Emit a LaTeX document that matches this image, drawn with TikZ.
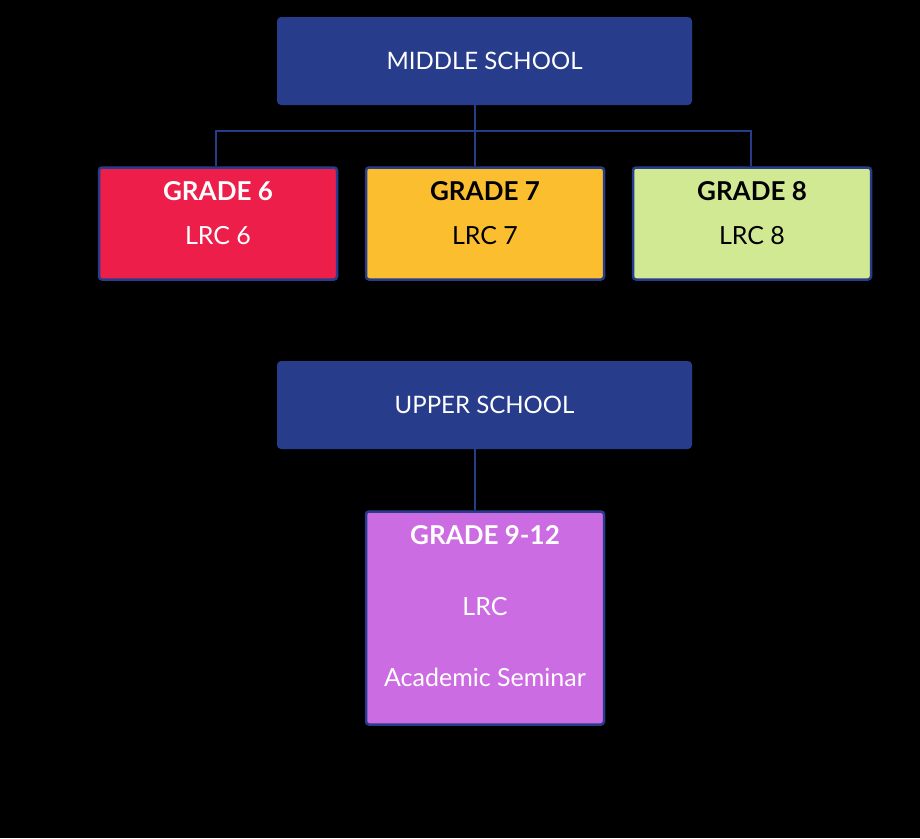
\documentclass[tikz,border=0pt]{standalone}
\usepackage{fontspec}
\setmainfont{Lato}
\usepackage{xcolor}
\definecolor{schoolnavy}{RGB}{40,60,140}
\definecolor{gradered}{RGB}{238,30,75}
\definecolor{gradeyellow}{RGB}{251,190,46}
\definecolor{gradegreen}{RGB}{210,233,148}
\definecolor{gradeviolet}{RGB}{204,108,226}

\begin{document}
\begin{tikzpicture}[x=1pt, y=-1pt,
  school/.style={rectangle, rounded corners=4pt, fill=schoolnavy, minimum width=415pt, minimum height=88pt, text=white, font=\fontsize{24}{28}\selectfont, inner sep=0pt},
  grade/.style={rectangle, rounded corners=3pt, draw=schoolnavy, line width=2.5pt, minimum width=238pt, inner sep=0pt},
  head/.style={font=\fontsize{26}{30}\selectfont\bfseries, inner sep=0pt},
  body/.style={font=\fontsize{25}{29}\selectfont, inner sep=0pt},
  link/.style={draw=schoolnavy, line width=2pt}
]
\fill[black] (0,0) rectangle (920,838);

\node[school] (middle) at (484.5,61) {MIDDLE SCHOOL};
\node[grade, fill=gradered, minimum height=112pt] (g6) at (218,223.5) {};
\node[grade, fill=gradeyellow, minimum height=112pt] (g7) at (485,223.5) {};
\node[grade, fill=gradegreen, minimum height=112pt] (g8) at (752,223.5) {};
\node[head, text=white] (g6h) at (218,191) {GRADE 6};
\node[body, text=white] (g6b) at (218,236) {LRC 6};
\node[head, text=black] (g7h) at (485,191) {GRADE 7};
\node[body, text=black] (g7b) at (485,236) {LRC 7};
\node[head, text=black] (g8h) at (752,191) {GRADE 8};
\node[body, text=black] (g8b) at (752,236) {LRC 8};

\node[school] (upper) at (484.5,405) {UPPER SCHOOL};
\node[grade, fill=gradeviolet, minimum height=213pt] (g9) at (485,618) {};
\node[head, text=white] (g9h) at (485,535) {GRADE 9-12};
\node[body, text=white] (g9b) at (485,607) {LRC};
\node[body, text=white] (g9s) at (485,677) {Academic Seminar};

\coordinate (split) at (475,131);
\draw[link] (middle.south -| split) -- (split);
\draw[link] (g6.north -| 216,0) |- (split) -| (g8.north -| 751,0);
\draw[link] (split) -- (g7.north -| split);
\draw[link] (upper.south -| split) -- (g9.north -| split);
\end{tikzpicture}
\end{document}
